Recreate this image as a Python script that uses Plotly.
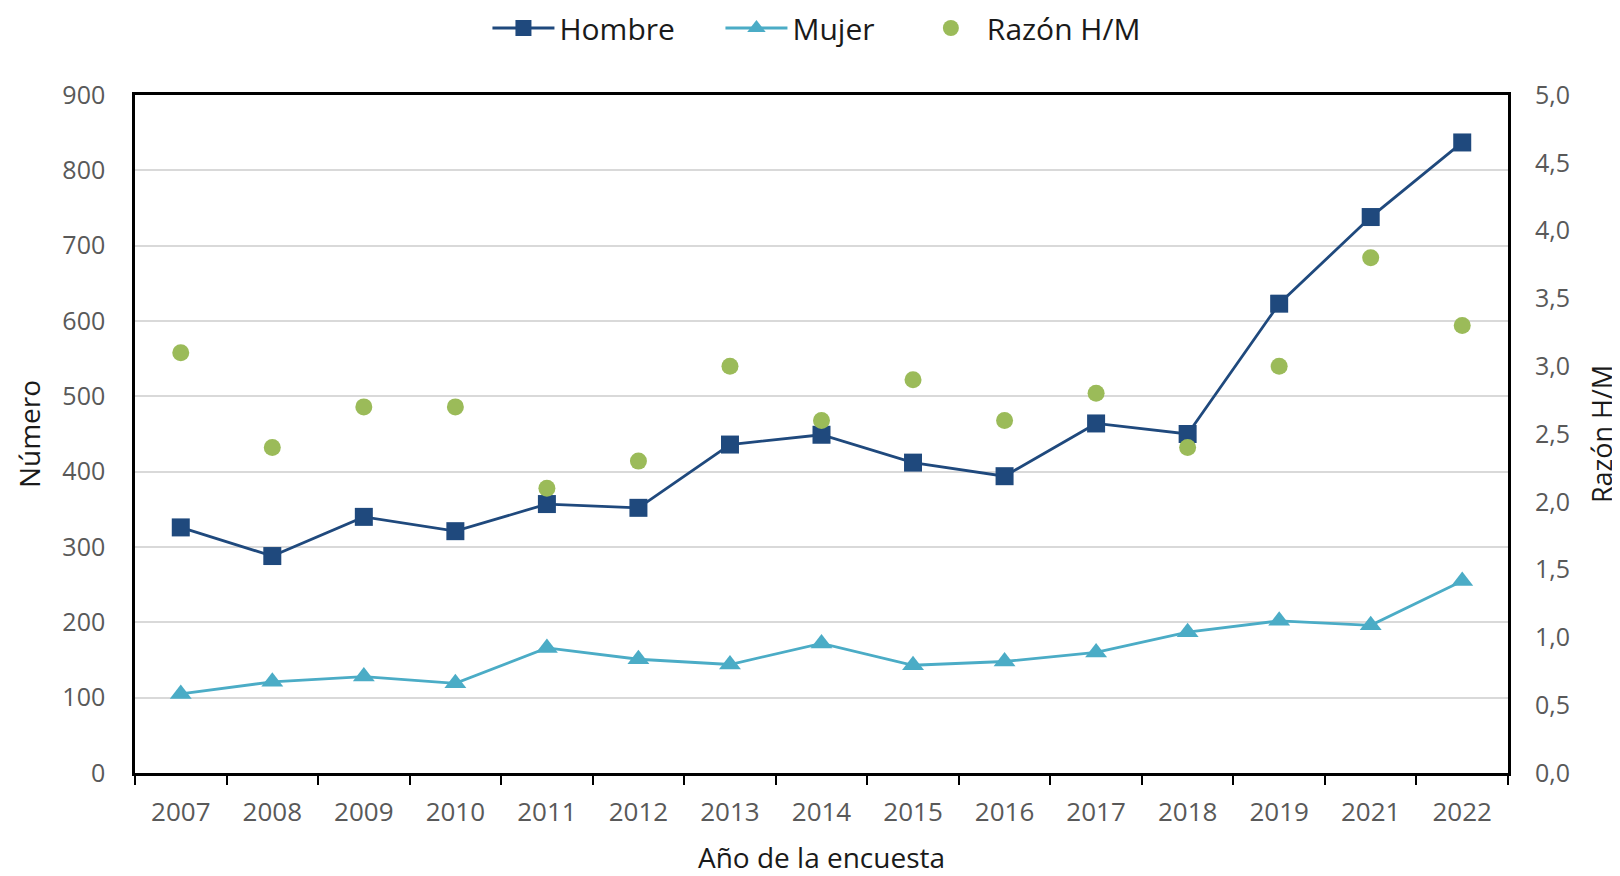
import plotly.graph_objects as go

# datos
anios = ["2007", "2008", "2009", "2010", "2011", "2012", "2013", "2014",
         "2015", "2016", "2017", "2018", "2019", "2021", "2022"]
hombre = [326, 288, 340, 321, 357, 352, 436, 449, 412, 394, 464, 450, 623, 738, 837]
mujer = [105, 121, 128, 119, 166, 151, 144, 172, 143, 148, 160, 187, 202, 196, 255]
razon = [3.1, 2.4, 2.7, 2.7, 2.1, 2.3, 3.0, 2.6, 2.9, 2.6, 2.8, 2.4, 3.0, 3.8, 3.3]

FONT = "Open Sans"
GRAY = "#595959"
TXT = "#1a1a1a"

fig = go.Figure()
fig.add_trace(go.Scatter(
    x=anios, y=hombre, name="Hombre", mode="lines+markers",
    line=dict(color="#1F497D", width=2.8),
    marker=dict(symbol="square", size=18, color="#1F497D"),
))
fig.add_trace(go.Scatter(
    x=anios, y=mujer, name="Mujer", mode="lines+markers",
    line=dict(color="#4BACC6", width=2.8),
    marker=dict(symbol="triangle-up", size=19, color="#4BACC6"),
))
fig.add_trace(go.Scatter(
    x=anios, y=razon, name="Razón H/M", mode="markers", yaxis="y2",
    legend="legend2",
    marker=dict(symbol="circle", size=17, color="#9BBB59"),
))

leg = dict(
    orientation="h", xanchor="left", xref="paper",
    y=1 - 20 / 868, yanchor="middle", yref="container",
    font=dict(size=30, color=TXT), itemwidth=62, traceorder="normal",
)

# la página html añade 8px de margen al cuerpo
fig.update_layout(
    width=1612, height=868,
    margin=dict(l=127, r=112, t=87, b=103),
    plot_bgcolor="white", paper_bgcolor="white",
    font=dict(family=FONT, size=25, color=GRAY),
    showlegend=True,
    legend=dict(leg, x=0.2567, entrywidth=156),
    legend2=dict(leg, x=0.568),
    xaxis=dict(
        type="category", range=[-0.5, 14.5], tickson="boundaries",
        ticks="outside", ticklen=9, tickwidth=2, tickcolor="black",
        showline=True, linecolor="black", linewidth=2.5, mirror=True,
        showgrid=False, ticklabelstandoff=14, automargin=False,
        tickfont=dict(size=26, color=GRAY),
        title=dict(text="Año de la encuesta", standoff=23,
                   font=dict(size=28, color=TXT)),
    ),
    yaxis=dict(
        range=[0, 900], dtick=100, showgrid=True, gridcolor="#D9D9D9",
        gridwidth=2, showline=True, linecolor="black", linewidth=2.5,
        mirror=True, ticks="", ticklabelstandoff=22, zeroline=False,
        automargin=False,
        title=dict(text="Número", standoff=14, font=dict(size=28, color=TXT)),
    ),
    yaxis2=dict(
        range=[0, 5], dtick=0.5, tickformat=".1f", overlaying="y", side="right",
        showgrid=False, zeroline=False, ticks="", ticklabelstandoff=26,
        automargin=False,
        title=dict(text="Razón H/M", standoff=24, font=dict(size=27, color=TXT)),
    ),
    separators=",.",
)

fig.write_html("out.html")
